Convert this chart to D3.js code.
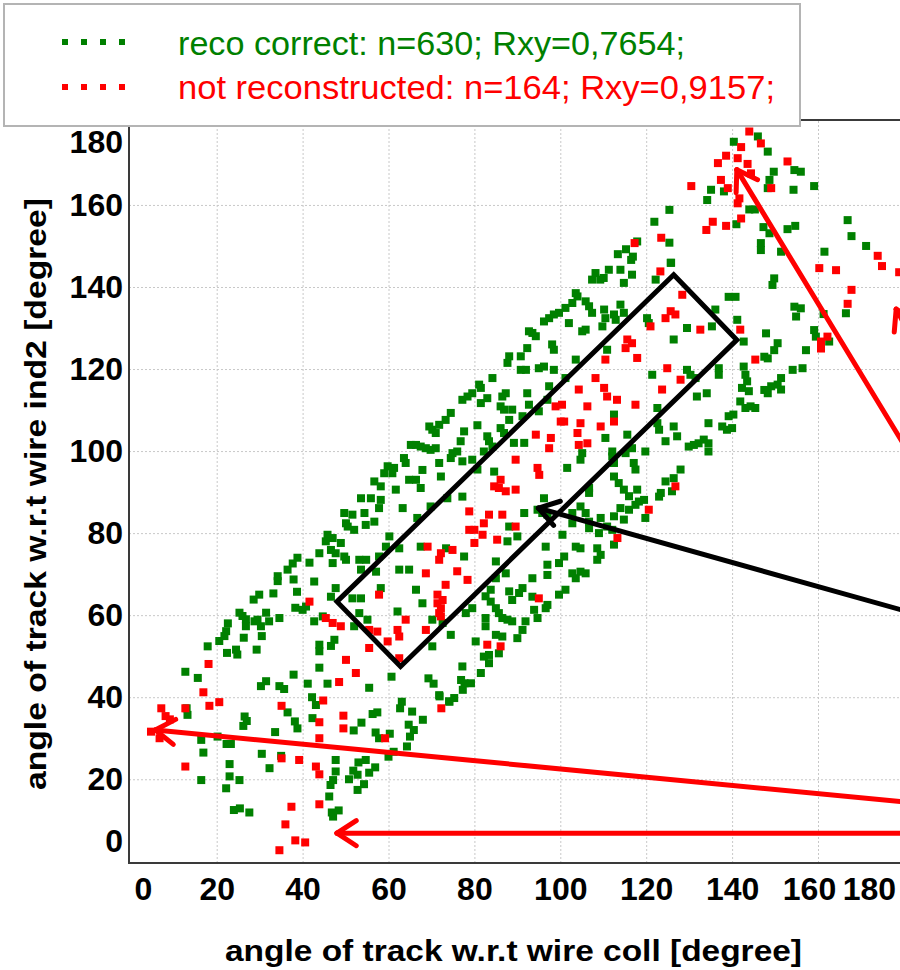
<!DOCTYPE html>
<html>
<head>
<meta charset="utf-8">
<script src="https://cdn.jsdelivr.net/npm/d3@7"></script>
<style>
  body { margin: 0; background: #fff; }
  svg { display: block; font-family: "Liberation Sans", Arial, sans-serif; }
</style>
</head>
<body>
<div id="chart"></div>
<script>
// ---- data (degrees) ----
var xTicks = [0, 20, 40, 60, 80, 100, 120, 140, 160, 180];
var yTicks = [0, 20, 40, 60, 80, 100, 120, 140, 160, 180];

var legendLabels = ["reco correct: n=630; Rxy=0,7654;", "not reconstructed: n=164; Rxy=0,9157;"];

// green: reco correct  [coll angle, ind2 angle]
var recoCorrect = [
  [13.0,37.3],[13.2,35.7],[16.4,29.6],[16.9,26.5],[16.4,19.8],[20.2,30.4],[22.3,28.6],[23.3,28.6],[23.0,23.7],[23.0,20.7],
  [25.3,19.8],[22.2,17.8],[24.0,12.5],[25.4,12.9],[27.6,11.9],[26.5,35.3],[26.2,33.0],[27.0,34.2],[30.5,26.2],[32.3,22.7],
  [33.6,31.5],[35.0,25.7],[36.5,36.3],[38.2,34.1],[38.8,32.4],[42.3,34.9],[43.1,38.1],[47.7,24.7],[47.7,21.9],[47.1,19.8],
  [46.5,18.6],[46.2,15.8],[46.8,11.9],[48.4,12.4],[47.1,10.9],[51.9,31.9],[53.7,33.8],[50.8,20.0],[51.8,22.1],[53.0,24.1],
  [54.7,24.7],[52.8,21.1],[54.3,18.8],[52.8,17.4],[55.5,21.6],[56.9,22.9],[56.3,35.9],[57.4,36.3],[57.0,31.4],[57.8,30.0],
  [60.3,31.1],[60.0,25.5],[61.2,26.7],[62.7,37.3],[63.1,38.9],[64.3,28.0],[65.0,30.4],[65.5,36.5],[64.7,33.3],[65.9,32.0],
  [68.0,34.5],[74.1,39.0],[71.8,40.5],[70.5,43.3],
  [12.7,46.2],[15.6,44.7],[17.9,52.4],[20.6,53.7],[21.8,54.9],[22.2,56.1],[22.6,58.0],[22.4,50.8],[24.5,51.6],[24.8,50.4],
  [25.3,60.6],[26.0,59.8],[26.8,59.0],[26.8,57.3],[28.8,58.5],[29.5,58.9],[30.3,57.3],[31.5,60.6],[32.2,58.5],[34.6,59.3],
  [26.3,54.5],[30.5,54.9],[29.3,51.6],[28.6,63.8],[29.9,65.0],[33.2,65.3],[34.2,69.5],[34.2,68.3],[36.5,71.1],[37.7,72.6],
  [38.8,74.0],[37.9,68.7],[38.7,65.7],[38.3,61.8],[37.9,45.5],[30.3,42.7],[31.5,43.9],[34.6,42.7],[35.7,42.0],[41.2,43.3],
  [42.2,40.0],[45.8,43.3],[55.5,42.3],
  [41.6,72.8],[43.9,52.8],[43.9,51.2],[43.9,47.2],[47.4,54.0],[46.6,52.5],[55.1,58.9],[69.3,44.6],[53.6,71.1],[57.8,74.3],
  [60.2,79.2],[62.5,76.3],[54.7,82.0],
  [111.3,144.2],[114.0,144.2],[108.2,143.4],[107.4,141.8],[109.3,141.8],[110.1,142.2],[114.8,141.0],[116.7,143.0],[122.2,141.8],[125.7,145.9],
  [103.6,138.5],[104.0,137.7],[102.8,136.1],[105.9,136.5],[106.7,135.3],[107.4,133.7],[101.2,134.9],[99.7,133.7],[98.5,133.3],[97.4,132.4],
  [96.2,131.6],[102.0,131.2],[110.2,134.5],[110.5,132.4],[112.5,133.3],[112.9,132.0],[114.8,133.7],[114.0,135.7],[109.8,130.4],[120.2,132.4],
  [120.6,131.2],[129.5,130.0],[135.3,130.4],[136.1,134.5],[126.4,127.2],[141.2,132.0],[142.7,126.7],[139.2,137.6],[140.8,137.6],[105.1,129.2],
  [105.9,129.6],[93.5,128.8],[94.3,128.0],[92.7,129.2],[98.1,126.0],[98.5,124.7],[92.3,125.1],[88.1,123.1],[87.7,121.5],[90.8,123.1],
  [110.9,124.7],
  [90.8,119.8],[92.0,119.8],[95.0,120.2],[96.2,120.6],[98.5,119.8],[101.2,117.8],[103.6,122.3],[84.2,117.8],[81.5,115.4],[81.1,116.2],
  [79.5,114.1],[78.4,113.3],[77.2,112.5],[87.3,114.1],[86.5,113.3],[83.0,112.9],[81.5,111.7],[86.1,110.9],[86.9,110.1],[92.3,114.1],
  [92.7,111.3],[97.4,115.8],[97.0,112.5],[95.0,109.7],[121.4,118.6],[129.5,119.8],[130.3,118.6],[131.5,117.8],[131.8,113.3],[134.1,114.1],
  [136.9,120.2],[136.9,118.6],[142.7,120.6],[143.1,118.6],[143.5,117.0],[142.3,115.4],[143.9,114.6],[141.9,112.1],[143.1,110.5],[144.3,110.9],
  [145.4,110.5],[122.6,110.5],
  [88.8,110.1],[88.1,107.6],[74.5,109.3],[73.3,107.6],[71.8,106.4],[70.2,105.2],[69.5,106.0],[71.0,104.4],[80.7,106.3],[77.6,104.8],
  [83.0,103.6],[83.4,102.4],[84.2,101.1],[76.8,102.4],[76.0,99.9],[74.5,98.3],[74.9,99.5],[77.2,97.5],[71.8,97.1],[89.2,102.0],
  [91.6,102.0],[82.2,99.9],[79.5,97.9],[86.1,105.6],[86.9,104.4],[84.6,95.0],[65.2,101.5],[66.4,101.5],[67.5,101.1],[68.7,100.7],
  [69.8,100.3],[71.0,100.7],[63.6,98.3],[64.0,97.1],[61.3,95.9],[60.9,94.6],[67.9,95.4],[72.2,93.8],[61.7,90.6],[64.8,93.0],
  [66.4,93.0],[67.5,91.0],[59.0,94.6],[59.8,96.3],[56.7,92.6],[58.2,91.4],[53.6,88.5],[55.9,88.5],[58.2,88.1],[57.8,86.1],
  [63.3,86.1],[49.7,84.9],[51.6,84.5],[54.4,84.9],[56.7,82.8],[52.0,80.8],[50.1,82.4],[50.5,81.6],[45.8,79.6],[47.0,78.8],
  [45.4,78.0],[48.9,77.6],[47.7,75.1],[49.7,74.3],[50.1,73.5],[43.9,75.1],[47.0,72.7],[46.6,75.9],[54.8,73.5],[42.7,68.2],
  [40.8,62.1],[40.0,61.3],[47.7,66.6],[51.6,64.1],[53.6,64.1],[59.4,76.7],[62.5,71.1],[64.8,71.1],[66.7,83.7],[69.8,86.5],
  [73.7,88.5],[77.2,88.9],[80.7,95.5],[91.2,108.5],
  [110.5,103.2],[112.5,108.9],[115.6,104.0],[116.7,100.7],[115.2,99.5],[119.8,99.9],[117.1,97.1],[117.5,95.5],[122.6,106.8],[123.0,105.2],
  [124.5,102.4],[127.2,103.6],[126.4,106.0],[129.9,101.1],[131.1,101.5],[132.2,101.9],[133.4,102.8],[134.5,101.9],[134.5,99.9],[134.5,106.8],
  [137.7,106.0],[138.8,105.2],[140.0,105.6],[139.2,108.5],[140.3,108.9],[128.0,95.5],[124.5,92.6],[126.4,93.4],[126.0,90.2],[112.1,99.9],
  [112.1,98.7],[112.5,97.1],[101.6,95.9],[104.7,97.9],[105.1,99.5],[106.7,91.0],[106.7,89.8],[112.5,93.8],[113.6,92.2],[114.8,90.6],
  [116.0,89.0],[117.5,86.9],[118.3,87.7],[117.9,90.6],[119.5,88.1],[114.0,86.1],[116.0,85.7],[114.8,83.3],[112.5,84.1],[123.0,88.9],
  [123.4,89.8],[119.8,83.7],
  [96.2,88.5],[94.7,85.7],[95.8,84.9],[97.0,84.5],[91.6,84.9],[88.1,81.6],[90.0,79.2],[87.7,78.0],[67.5,76.7],[73.4,76.3],
  [77.6,74.3],[85.0,73.1],[96.6,76.7],[100.5,79.6],[102.8,82.4],[102.8,84.9],[104.7,86.5],[105.9,84.9],[106.7,82.8],[106.7,81.2],
  [109.0,80.0],[109.4,83.7],[110.9,81.6],[112.1,80.8],[108.6,76.3],[109.4,74.7],[108.6,73.5],[112.5,77.2],[103.6,76.7],[104.7,76.3],
  [100.9,74.3],[99.7,72.7],[102.8,70.2],[103.6,69.0],[105.9,70.2],[104.7,70.6],[101.2,66.2],[99.7,65.0],[97.0,72.3],[97.0,69.8],
  [93.5,69.0],[91.2,66.6],[90.4,65.4],[88.1,65.8],[88.8,63.7],[87.3,70.2],[85.0,69.0],[83.8,66.2],[82.6,64.6],[83.8,63.3],
  [85.0,61.7],[85.7,60.5],[86.5,59.3],[87.7,58.9],[88.8,58.5],[93.9,61.3],[94.7,59.3],[96.6,61.7],[97.0,62.5],[91.2,56.4],
  [90.0,54.4],[79.5,61.7],[78.0,60.5],[74.5,55.2],[82.6,59.3],[82.6,57.3],[85.0,55.2],[86.5,54.8],[80.3,53.6],[82.2,49.9],
  [83.4,50.3],[83.4,48.3],[85.7,50.7],[81.5,45.9],[77.2,47.5],[70.2,52.4],[67.9,62.9],[70.2,58.9],[72.6,58.1],[53.2,60.5],
  [52.0,57.3],[60.7,45.0],[42.7,58.5],[44.7,59.7],[46.6,64.5],[66.4,66.2],[62.1,60.9],[58.2,66.6],[57.1,70.6],[53.2,73.5],
  [93.5,64.5],[91.9,58.5],
  [77.3,41.8],[77.7,43.4],[79.2,43.4],[76.9,44.2],[74.2,38.9],[75.3,39.8],[71.9,40.2],
  [140.4,175.4],[146.0,176.7],[148.3,173.0],[149.7,168.1],[148.7,166.1],[148.3,164.1],[154.5,168.5],[156.0,168.1],[154.3,163.7],[159.1,164.6],
  [135.1,163.7],[134.2,161.2],[138.1,163.3],[144.0,158.9],[145.3,158.9],[125.4,158.8],[121.9,155.9],[141.0,155.3],[147.3,154.6],[148.7,153.1],
  [152.9,154.1],[154.7,154.9],[146.7,150.7],[146.7,149.0],[151.4,148.6],[117.9,151.1],[125.4,150.8],[113.4,148.0],[115.3,149.2],[116.9,147.4],
  [116.5,146.6],[125.8,145.9],[161.5,148.6],[166.9,156.3],[167.8,152.4],[171.2,150.0],[156.0,134.8],[154.9,132.8],[166.5,133.6],[161.3,133.4],
  [159.1,129.5],[159.5,127.9],[162.6,126.7],[157.2,124.6],[156.4,120.2],[154.1,119.8],[151.4,117.8],[154.5,135.2],[149.8,124.6],[150.6,126.3],
  [148.3,122.6],[147.5,123.0],[151.4,115.0],[149.1,115.8],[150.6,116.2],[148.3,114.1],[147.5,114.9],[147.9,128.7],[149.8,142.1],[149.4,140.5]
];

// red: not reconstructed
var notReconstructed = [
  [7.1,37.3],[8.1,35.4],[9.1,34.6],[4.7,31.6],[6.7,30.0],[12.7,37.3],[18.3,37.9],[20.6,38.8],[12.7,23.1],[35.1,37.9],
  [44.8,39.2],[43.9,33.9],[43.9,30.0],[35.1,25.1],[39.2,24.7],[43.1,23.1],[43.9,21.2],[43.9,13.9],[37.4,13.3],[36.0,9.0],
  [38.3,5.1],[40.6,4.6],[34.6,2.7],[49.5,35.5],[49.5,32.4],[59.2,30.0],[72.3,37.3],
  [18.1,48.1],[16.9,41.2],[48.5,43.7],
  [123.3,143.8],[128.4,138.1],[125.7,134.1],[124.5,132.4],[126.8,133.3],[121.0,130.4],[132.6,129.6],[141.9,129.6],[115.6,127.2],[116.7,126.3],
  [115.2,125.1],[117.9,122.7],[110.5,122.3],[108.2,117.8],[110.2,115.4],[110.9,113.3],[113.2,112.5],[104.3,115.0],[106.3,110.9],[98.9,110.9],
  [100.4,111.3],[117.5,111.3],[124.9,120.2],[123.7,115.0],[128.0,117.4],[145.4,122.3],
  [104.7,106.8],[104.0,104.4],[100.1,107.2],[100.9,107.2],[94.3,104.0],[97.8,103.2],[97.4,100.7],[104.3,101.5],[106.3,101.9],[109.4,106.0],
  [112.5,107.2],[89.6,97.9],[94.7,95.9],[95.1,94.2],[86.1,93.0],[120.6,85.7],[126.8,91.4],
  [84.6,91.4],[85.7,91.0],[87.3,90.2],[89.6,90.6],[89.6,81.6],[78.8,85.3],[83.4,84.5],[86.5,84.5],[82.2,82.4],[78.8,80.8],
  [80.0,80.8],[81.9,79.6],[80.0,77.6],[85.3,78.4],[69.1,76.7],[72.2,75.1],[71.8,73.5],[74.9,75.9],[68.7,70.2],[76.0,70.7],
  [78.4,68.6],[73.3,67.4],[57.8,65.0],[71.4,65.0],[72.6,63.7],[71.4,62.9],[72.2,61.7],[71.8,60.5],[72.2,59.7],[64.0,58.9],
  [62.1,56.4],[62.5,54.8],[59.8,53.6],[55.5,56.4],[57.4,56.0],[55.5,52.0],[68.7,56.4],[41.6,63.3],[45.4,59.3],[47.0,58.1],
  [48.9,57.3],[50.1,49.1],[52.4,45.9],[62.5,49.5],[83.0,52.8],[86.1,52.4],[95.0,64.1],[113.3,78.8],
  [144.0,177.9],[142.1,174.1],[146.7,175.0],[138.6,172.0],[136.7,170.2],[141.3,171.4],[143.6,170.0],[144.4,167.7],[152.9,170.6],[137.4,166.1],
  [139.0,164.1],[130.5,164.6],[149.1,164.1],[141.7,161.6],[141.3,160.4],[142.1,156.7],[135.5,155.9],[134.0,153.9],[138.6,154.9],[123.5,152.0],
  [117.3,150.7],[160.3,144.6],[164.2,144.1],[173.9,147.6],[174.9,145.1],[178.9,143.6],[167.8,139.3],[166.9,135.9],[160.7,126.7],[162.2,127.9],
  [160.7,125.0]
];

// annotations drawn on top of the chart (in degrees too)
var boxCorners = [[126.4,143.0],[141.1,127.1],[62.8,47.5],[48.0,63.3]];
var arrows = [
  {color: "#000000", from: [183.8, 60.0], to: [94.9, 86.1]},
  {color: "#ff0000", from: [183.8, 95.0], to: [141.1, 168.6]},
  {color: "#ff0000", from: [183.8, 14.1], to: [5.7, 32.0]},
  {color: "#ff0000", from: [183.8, 6.85], to: [48.0, 6.85]},
  {color: "#ff0000", from: [190.7, 110.2], to: [178.2, 134.6]}
];

// ---- layout ----
var width = 900, height = 970;
var frame = {left: 129, top: 120, bottom: 863};
var GREEN = "#008000", RED = "#ff0000";
var MARK = 8;

var x = d3.scaleLinear().domain([0, 180]).range([130.8, 903.9]);
var y = d3.scaleLinear().domain([0, 180]).range([861.3, 122.9]);

var svg = d3.select("#chart").append("svg")
  .attr("width", width)
  .attr("height", height);

// dotted grid
var inner = function (v) { return v > 0 && v < 180; };
svg.append("g")
  .attr("transform", "translate(0," + frame.bottom + ")")
  .call(d3.axisBottom(x).tickValues(xTicks.filter(inner)).tickSize(-(frame.bottom - frame.top)).tickFormat(""))
  .call(function (g) { g.select(".domain").remove(); })
  .selectAll("line").attr("stroke", "#c8c8c8").attr("stroke-dasharray", "2,2");
svg.append("g")
  .attr("transform", "translate(" + frame.left + ",0)")
  .call(d3.axisLeft(y).tickValues(yTicks.filter(inner)).tickSize(-(width - frame.left)).tickFormat(""))
  .call(function (g) { g.select(".domain").remove(); })
  .selectAll("line").attr("stroke", "#c8c8c8").attr("stroke-dasharray", "2,2");

// points
function drawPoints(data, color) {
  svg.append("g").selectAll("rect")
    .data(data)
    .enter()
    .append("rect")
    .attr("x", function (d) { return x(d[0]) - MARK / 2; })
    .attr("y", function (d) { return y(d[1]) - MARK / 2; })
    .attr("width", MARK)
    .attr("height", MARK)
    .attr("fill", color);
}
drawPoints(recoCorrect, GREEN);
drawPoints(notReconstructed, RED);

// frame
var frameG = svg.append("g").attr("stroke", "#3a3a3a").attr("stroke-width", 2);
frameG.append("line").attr("x1", frame.left).attr("x2", frame.left).attr("y1", frame.top).attr("y2", frame.bottom + 1);
frameG.append("line").attr("x1", frame.left).attr("x2", width).attr("y1", frame.bottom).attr("y2", frame.bottom);
frameG.append("line").attr("x1", frame.left).attr("x2", width).attr("y1", frame.top).attr("y2", frame.top);

// axes labels (end labels are pushed inside like in the original)
var xShift = {0: 12, 160: -9, 180: -35};
var yShift = {0: -20, 180: 19};

var xAxisG = svg.append("g")
  .attr("transform", "translate(0," + frame.bottom + ")")
  .call(d3.axisBottom(x).tickValues(xTicks).tickSize(0).tickPadding(14));
xAxisG.select(".domain").remove();
xAxisG.selectAll("text")
  .attr("font-family", "'Liberation Sans', Arial, sans-serif")
  .attr("font-size", 32).attr("font-weight", "bold").attr("fill", "#000")
  .attr("dx", function (d) { return xShift[d] || 0; });

var yAxisG = svg.append("g")
  .attr("transform", "translate(" + frame.left + ",0)")
  .call(d3.axisLeft(y).tickValues(yTicks).tickSize(0).tickPadding(6));
yAxisG.select(".domain").remove();
yAxisG.selectAll("text")
  .attr("font-family", "'Liberation Sans', Arial, sans-serif")
  .attr("font-size", 32).attr("font-weight", "bold").attr("fill", "#000")
  .attr("y", function (d) { return yShift[d] || 0; });

// axis titles
svg.append("text")
  .attr("x", 225).attr("y", 961)
  .attr("font-size", 30).attr("font-weight", "bold")
  .attr("textLength", 577).attr("lengthAdjust", "spacingAndGlyphs")
  .text("angle of track w.r.t wire coll [degree]");
svg.append("text")
  .attr("transform", "translate(46,790) rotate(-90)")
  .attr("font-size", 30).attr("font-weight", "bold")
  .attr("textLength", 592).attr("lengthAdjust", "spacingAndGlyphs")
  .text("angle of track w.r.t wire ind2 [degree]");

// black box
svg.append("polygon")
  .attr("points", boxCorners.map(function (c) { return x(c[0]) + "," + y(c[1]); }).join(" "))
  .attr("fill", "none").attr("stroke", "#000").attr("stroke-width", 5);

// arrows with open heads
arrows.forEach(function (a) {
  var x0 = x(a.from[0]), y0 = y(a.from[1]), x1 = x(a.to[0]), y1 = y(a.to[1]);
  var ang = Math.atan2(y0 - y1, x0 - x1);
  var len = 23, spread = 33 * Math.PI / 180;
  var g = svg.append("g").attr("stroke", a.color).attr("stroke-width", 5)
    .attr("stroke-linecap", "round").attr("fill", "none");
  g.append("line").attr("x1", x0).attr("y1", y0).attr("x2", x1).attr("y2", y1);
  [ang - spread, ang + spread].forEach(function (t) {
    g.append("line").attr("x1", x1).attr("y1", y1)
      .attr("x2", x1 + len * Math.cos(t)).attr("y2", y1 + len * Math.sin(t));
  });
});

// legend
var legend = svg.append("g");
legend.append("rect")
  .attr("x", 4).attr("y", 4).attr("width", 796).attr("height", 122)
  .attr("fill", "#fff").attr("stroke", "#b4b4b4").attr("stroke-width", 2);
var rows = [
  {label: legendLabels[0], color: GREEN, base: 55, dotY: 42, len: 507},
  {label: legendLabels[1], color: RED, base: 99, dotY: 87, len: 597}
];
rows.forEach(function (r) {
  legend.selectAll(null).data([65, 84, 103, 122]).enter().append("rect")
    .attr("x", function (d) { return d - 3; }).attr("y", r.dotY - 3)
    .attr("width", 6).attr("height", 6).attr("fill", r.color);
  legend.append("text")
    .attr("x", 178).attr("y", r.base)
    .attr("font-size", 33).attr("fill", r.color)
    .attr("textLength", r.len).attr("lengthAdjust", "spacingAndGlyphs")
    .text(r.label);
});
</script>
</body>
</html>
